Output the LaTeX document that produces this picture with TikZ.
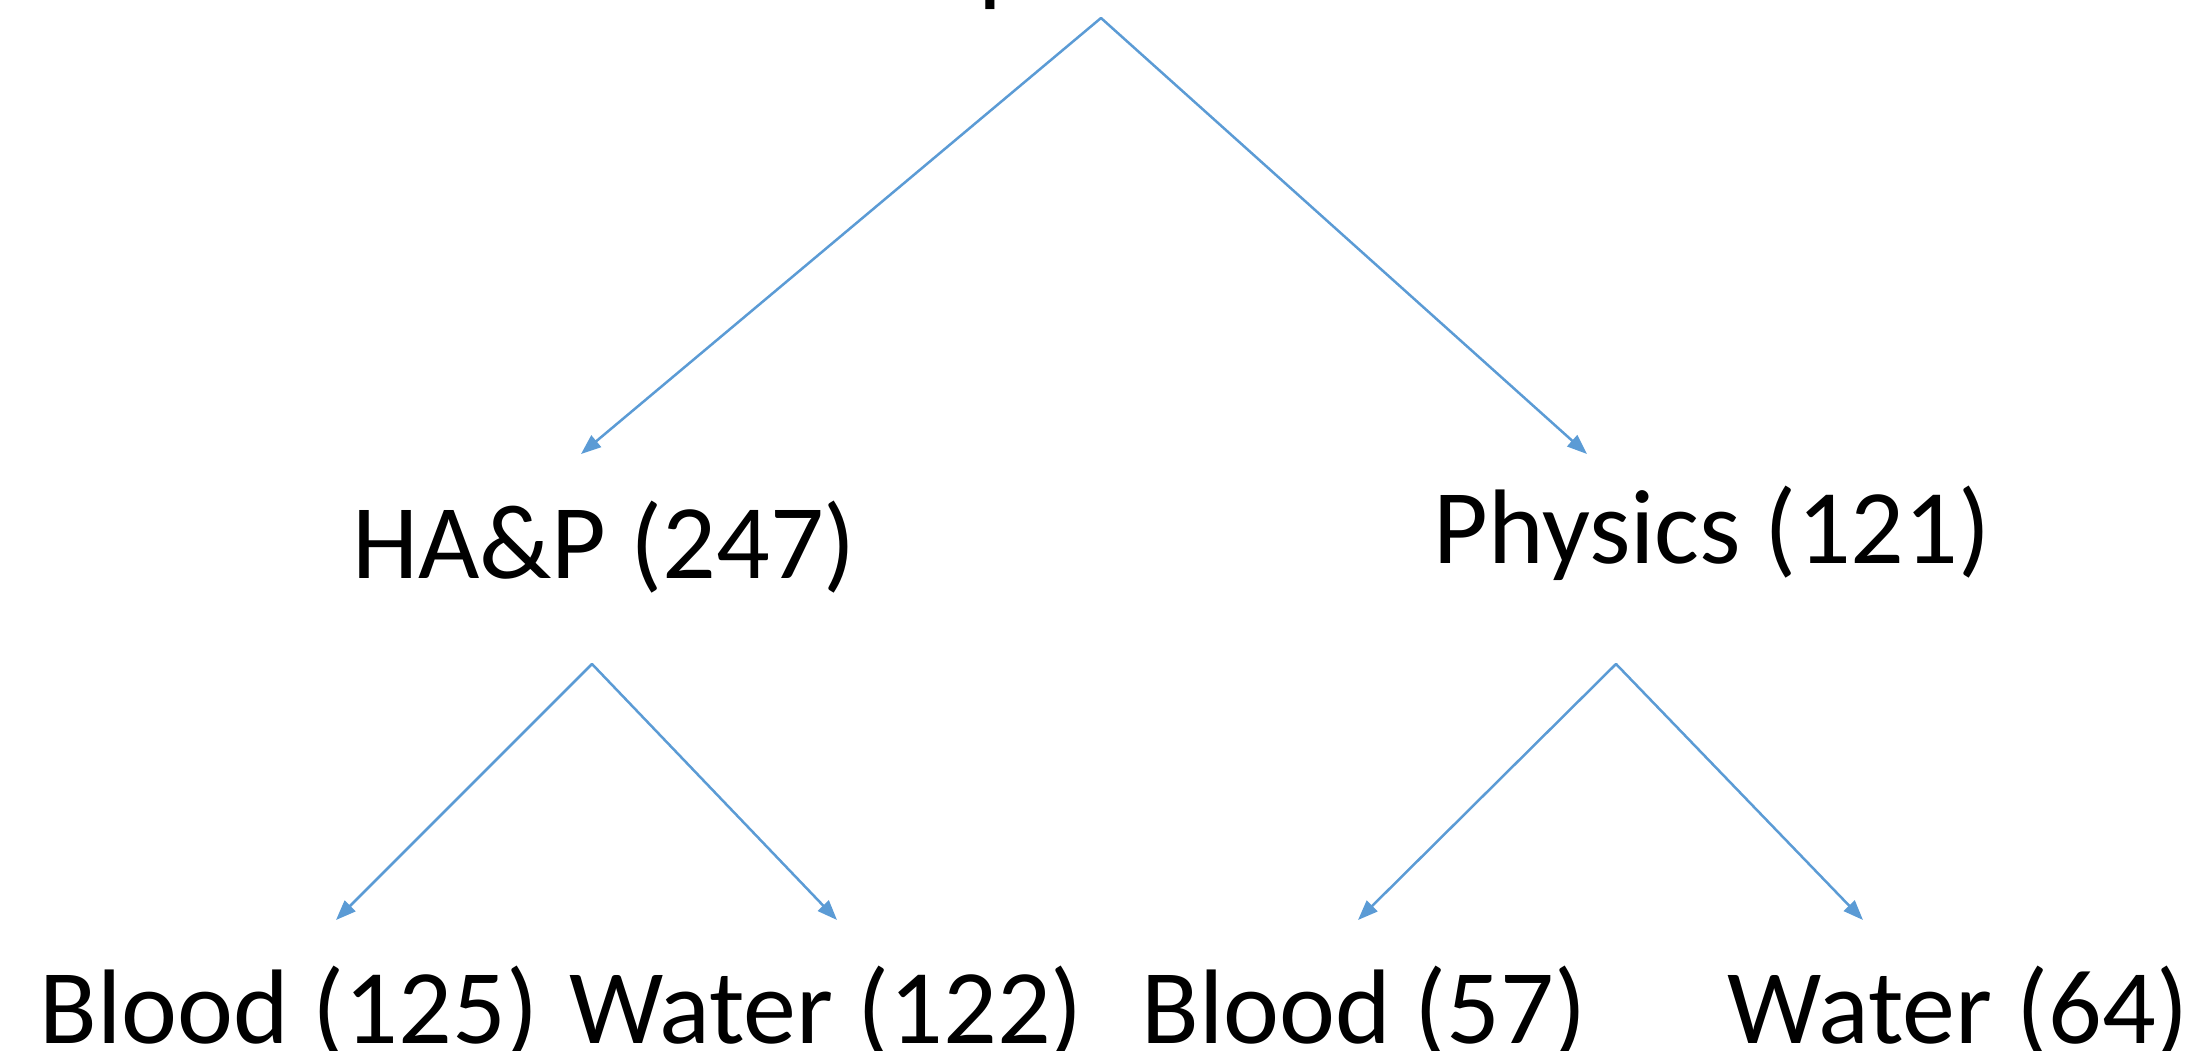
\documentclass[tikz,border=0pt]{standalone}
\usepackage{fontspec}
\setmainfont{Carlito}
\usetikzlibrary{arrows.meta}
\definecolor{linkblue}{HTML}{5B9BD5}
\begin{document}
\begin{tikzpicture}[x=1pt,y=-1pt,
  treelabel/.style={font=\fontsize{106}{127}\selectfont, inner sep=0pt, anchor=base},
  link/.style={draw=linkblue, line width=2.5pt, line cap=round,
    -{Triangle[length=20pt,width=15pt]}}]
\useasboundingbox (0,0) rectangle (2196,1051);

% root label (sits mostly above the page edge)
\node[treelabel, anchor=base west] (root) at (794,-7) {Sample};
\coordinate (rootpt) at (1101,18);

% second level
\node[treelabel] (hap)  at (604,578)  {HA\&P (247)};
\node[treelabel] (phys) at (1712,563) {Physics (121)};
\coordinate (hapin)   at (581,454);
\coordinate (physin)  at (1587,454);
\coordinate (hapout)  at (592,664);
\coordinate (physout) at (1616,664);

% leaves
\node[treelabel] (hblood) at (289,1043)  {Blood (125)};
\node[treelabel] (hwater) at (826,1043)  {Water (122)};
\node[treelabel] (pblood) at (1364,1043) {Blood (57)};
\node[treelabel] (pwater) at (1958,1043) {Water (64)};
\coordinate (hbloodin) at (336,920);
\coordinate (hwaterin) at (837,920);
\coordinate (pbloodin) at (1358,920);
\coordinate (pwaterin) at (1863,920);

% connectors
\draw[link] (rootpt) -- (hapin);
\draw[link] (rootpt) -- (physin);
\draw[link] (hapout) -- (hbloodin);
\draw[link] (hapout) -- (hwaterin);
\draw[link] (physout) -- (pbloodin);
\draw[link] (physout) -- (pwaterin);
\end{tikzpicture}
\end{document}
